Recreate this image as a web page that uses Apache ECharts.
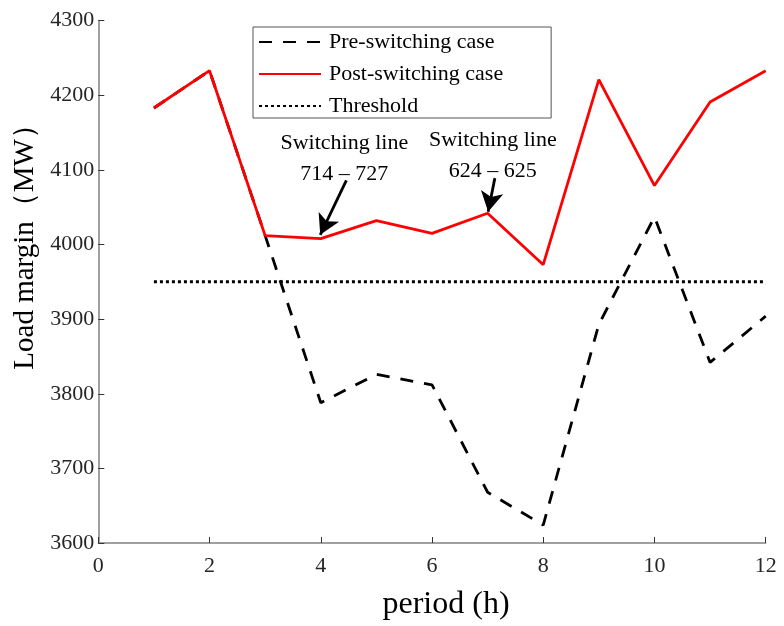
<!DOCTYPE html>
<html>
<head>
<meta charset="utf-8">
<script src="https://cdn.jsdelivr.net/npm/echarts@6/dist/echarts.min.js"></script>
<style>html,body{margin:0;padding:0;background:#fff;}#c{width:784px;height:626px;}</style>
</head>
<body>
<div id="c"></div>
<script>
const hours = [1,2,3,4,5,6,7,8,9,10,11,12];
const preSwitching = [4183,4233,4012,3788,3826,3812,3668,3624,3893,4037,3842,3904];
const postSwitching = [4183,4233,4012,4008,4032,4015,4042,3973,4221,4079,4191,4233];
const threshold = [3950,3950,3950,3950,3950,3950,3950,3950,3950,3950,3950,3950];
const xTicks = [0,2,4,6,8,10,12];
const yTicks = [3600,3700,3800,3900,4000,4100,4200,4300];
// arrow annotations: [tailX, tailY, tipX, tipY] in data units
const arrows = [[4.46,4086,3.99,4013],[7.13,4089,7.01,4044]];
const notes = [["Switching line","714 – 727"],["Switching line","624 – 625"]];

const FONT = "'Liberation Serif','Times New Roman',serif";
const pairs = arr => hours.map((h,i)=>[h,arr[i]]);

const chart = echarts.init(document.getElementById('c'));
chart.setOption({
  animation:false,
  backgroundColor:'#fff',
  grid:{left:98.3,right:18.3,top:20.7,bottom:79},
  legend:{
    orient:'vertical', left:253, top:27,
    data:['Pre-switching case','Post-switching case','Threshold'],
    itemWidth:62, itemHeight:14, itemGap:10,
    padding:[4,48,1,5],
    borderColor:'#555', borderWidth:1, backgroundColor:'#fff',
    itemStyle:{opacity:0},
    textStyle:{fontFamily:FONT,fontSize:22,color:'#000',padding:[0,0,0,3]}
  },
  xAxis:{
    type:'value', min:xTicks[0], max:xTicks[xTicks.length-1], interval:2,
    name:'period (h)', nameLocation:'middle', nameGap:46,
    nameTextStyle:{fontFamily:FONT,fontSize:32,color:'#000',padding:[0,0,0,28]},
    axisLine:{lineStyle:{color:'#808080',width:1.5}},
    axisTick:{inside:true,length:6,lineStyle:{color:'#333',width:1}},
    axisLabel:{fontFamily:FONT,fontSize:22,color:'#262626',margin:12},
    splitLine:{show:false}
  },
  yAxis:{
    type:'value', min:yTicks[0], max:yTicks[yTicks.length-1], interval:100,
    name:'Load margin（MW）', nameLocation:'middle', nameGap:44,
    nameTextStyle:{fontFamily:FONT,fontSize:29,color:'#000',padding:[0,0,0,84]},
    axisLine:{show:true,lineStyle:{color:'#808080',width:1.5}},
    axisTick:{show:true,inside:true,length:6,lineStyle:{color:'#333',width:1}},
    axisLabel:{fontFamily:FONT,fontSize:22,color:'#262626',margin:4,formatter:v=>String(v)},
    splitLine:{show:false}
  },
  series:[
    {name:'Pre-switching case',type:'line',data:pairs(preSwitching),symbol:'none',
     lineStyle:{color:'#000',width:2.8,type:[13,11]},itemStyle:{color:'#000'},z:2},
    {name:'Post-switching case',type:'line',data:pairs(postSwitching),symbol:'none',
     lineStyle:{color:'#ff0000',width:2.8},itemStyle:{color:'#ff0000'},z:3,
     markLine:{silent:true,symbol:['none','arrow'],symbolSize:[17,20],
       lineStyle:{color:'#000',width:2.8,type:'solid'},label:{show:false},
       data:arrows.map(a=>[{coord:[a[0],a[1]]},{coord:[a[2],a[3]]}])}},
    {name:'Threshold',type:'line',data:pairs(threshold),symbol:'none',
     lineStyle:{color:'#000',width:3,type:[3,3]},itemStyle:{color:'#000'},z:2}
  ]
});
// annotation text positioned relative to arrow tails
const gr = [];
arrows.forEach((a,i)=>{
  const p = chart.convertToPixel({gridIndex:0},[a[0],a[1]]);
  gr.push({type:'text',x:p[0]-2,y:p[1]-22,
    style:{text:notes[i][0]+'\n'+notes[i][1],font:'22px '+FONT,fill:'#000',
      align:'center',verticalAlign:'middle',lineHeight:31}});
});
chart.setOption({graphic:gr});
</script>
</body>
</html>
